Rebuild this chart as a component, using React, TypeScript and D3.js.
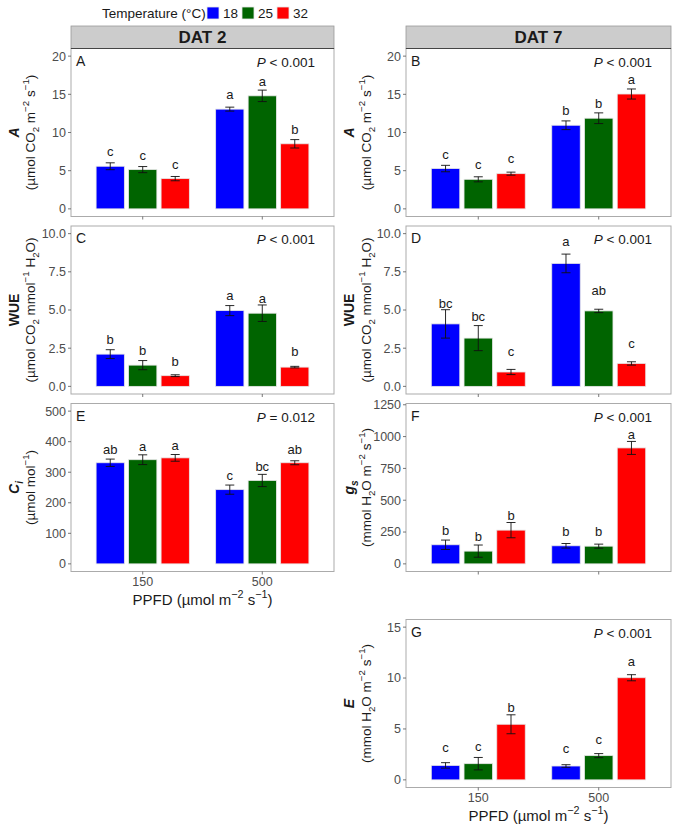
import React from "react";
import * as d3 from "d3";

// categories
const ppfd = ["150", "500"];
const temps = ["18", "25", "32"];
const tempColors = ["#0000FF", "#006400", "#FF0000"];

// order of every series: 150/18, 150/25, 150/32, 500/18, 500/25, 500/32
const aDat2 = [5.58, 5.14, 3.96, 13.06, 14.8, 8.52];
const aDat2Se = [0.45, 0.4, 0.28, 0.26, 0.75, 0.55];
const aDat2Let = ["c", "c", "c", "a", "a", "b"];
const aDat2LetY = [7.47, 7.03, 5.8, 14.95, 16.7, 10.4];

const aDat7 = [5.28, 3.87, 4.61, 10.95, 11.87, 15.04];
const aDat7Se = [0.42, 0.33, 0.2, 0.57, 0.7, 0.66];
const aDat7Let = ["c", "c", "c", "b", "b", "a"];
const aDat7LetY = [7.12, 5.8, 6.6, 12.9, 13.85, 16.9];

const wueDat2 = [2.11, 1.39, 0.7, 4.96, 4.79, 1.26];
const wueDat2Se = [0.29, 0.3, 0.06, 0.33, 0.54, 0.05];
const wueDat2Let = ["b", "b", "b", "a", "a", "b"];
const wueDat2LetY = [3.05, 2.33, 1.63, 5.92, 5.77, 2.28];

const wueDat7 = [4.09, 3.16, 0.94, 8.05, 4.94, 1.5];
const wueDat7Se = [0.93, 0.82, 0.17, 0.61, 0.11, 0.11];
const wueDat7Let = ["bc", "bc", "c", "a", "ab", "c"];
const wueDat7LetY = [5.44, 4.57, 2.28, 9.46, 6.31, 2.83];

const ciDat2 = [331, 341, 347, 243, 273, 331];
const ciDat2Se = [12, 16, 11, 15, 20, 6.5];
const ciDat2Let = ["ab", "a", "a", "c", "bc", "ab"];
const ciDat2LetY = [376, 383, 389, 289, 318, 376];

const gsDat7 = [150, 100, 265, 142, 139, 911];
const gsDat7Se = [37, 48, 60, 18, 16, 51];
const gsDat7Let = ["b", "b", "b", "b", "b", "a"];
const gsDat7LetY = [265, 218, 381, 257, 257, 1019];

const eDat7 = [1.42, 1.59, 5.46, 1.36, 2.38, 10.03];
const eDat7Se = [0.27, 0.61, 0.93, 0.13, 0.2, 0.3];
const eDat7Let = ["c", "c", "b", "c", "c", "a"];
const eDat7LetY = [3.14, 3.24, 7.11, 3.08, 4.0, 11.6];

const ticks20 = [0, 5, 10, 15, 20];
const ticks10 = [0, 2.5, 5, 7.5, 10];
const ticks500 = [0, 100, 200, 300, 400, 500];
const ticks1250 = [0, 250, 500, 750, 1000, 1250];
const ticks15 = [0, 5, 10, 15];

type Seg = { t: string; k?: "sub" | "sup"; it?: boolean; b?: boolean };

const unitsA: Seg[] = [{ t: "(µmol CO" }, { t: "2", k: "sub" }, { t: " m" }, { t: "−2", k: "sup" }, { t: " s" }, { t: "−1", k: "sup" }, { t: ")" }];
const unitsWue: Seg[] = [{ t: "(µmol CO" }, { t: "2", k: "sub" }, { t: " mmol" }, { t: "−1", k: "sup" }, { t: " H" }, { t: "2", k: "sub" }, { t: "O)" }];
const unitsCi: Seg[] = [{ t: "(µmol mol" }, { t: "−1", k: "sup" }, { t: ")" }];
const unitsH2o: Seg[] = [{ t: "(mmol H" }, { t: "2", k: "sub" }, { t: "O m" }, { t: "−2", k: "sup" }, { t: " s" }, { t: "−1", k: "sup" }, { t: ")" }];
const unitsPpfd: Seg[] = [{ t: "PPFD (µmol m" }, { t: "−2", k: "sup" }, { t: " s" }, { t: "−1", k: "sup" }, { t: ")" }];

const font = "'Liberation Sans', Arial, Helvetica, sans-serif";
const colX = [71, 406];
const colW = [263, 265];
const rowTop = [48.5, 226, 403.5, 619.5];
const panelH = 168;

const panels = [
  { tag: "A", col: 0, row: 0, v: aDat2, se: aDat2Se, let: aDat2Let, letY: aDat2LetY, max: 20, ticks: ticks20, fmt: "d", p: "< 0.001", title: [{ t: "A", it: true, b: true }] as Seg[], units: unitsA, strip: "DAT 2" },
  { tag: "B", col: 1, row: 0, v: aDat7, se: aDat7Se, let: aDat7Let, letY: aDat7LetY, max: 20, ticks: ticks20, fmt: "d", p: "< 0.001", title: [{ t: "A", it: true, b: true }] as Seg[], units: unitsA, strip: "DAT 7" },
  { tag: "C", col: 0, row: 1, v: wueDat2, se: wueDat2Se, let: wueDat2Let, letY: wueDat2LetY, max: 10, ticks: ticks10, fmt: ".1f", p: "< 0.001", title: [{ t: "WUE", b: true }] as Seg[], units: unitsWue },
  { tag: "D", col: 1, row: 1, v: wueDat7, se: wueDat7Se, let: wueDat7Let, letY: wueDat7LetY, max: 10, ticks: ticks10, fmt: ".1f", p: "< 0.001", title: [{ t: "WUE", b: true }] as Seg[], units: unitsWue },
  { tag: "E", col: 0, row: 2, v: ciDat2, se: ciDat2Se, let: ciDat2Let, letY: ciDat2LetY, max: 500, ticks: ticks500, fmt: "d", p: "= 0.012", title: [{ t: "C", it: true, b: true }, { t: "i", k: "sub", it: true, b: true }] as Seg[], units: unitsCi, xlab: true },
  { tag: "F", col: 1, row: 2, v: gsDat7, se: gsDat7Se, let: gsDat7Let, letY: gsDat7LetY, max: 1200, ticks: ticks1250, fmt: "d", p: "< 0.001", title: [{ t: "g", it: true, b: true }, { t: "s", k: "sub", it: true, b: true }] as Seg[], units: unitsH2o },
  { tag: "G", col: 1, row: 3, v: eDat7, se: eDat7Se, let: eDat7Let, letY: eDat7LetY, max: 15, ticks: ticks15, fmt: "d", p: "< 0.001", title: [{ t: "E", it: true, b: true }] as Seg[], units: unitsH2o, xlab: true },
];

// rich text: base is the vertical shift of the whole line (the tspans' dy would override a dy on the parent <text>)
function Rich({ segs, size, base = 0.35 * size }: { segs: Seg[]; size: number; base?: number }) {
  let cur = -base;
  const out = segs.map((s, i) => {
    const target = s.k === "sup" ? -0.42 * size : s.k === "sub" ? 0.28 * size : 0;
    const dy = target - cur;
    cur = target;
    return (
      <tspan key={i} dy={dy} fontSize={s.k ? size * 0.72 : size} fontStyle={s.it ? "italic" : "normal"} fontWeight={s.b ? "bold" : "normal"}>
        {s.t}
      </tspan>
    );
  });
  return <>{out}</>;
}

function Panel({ cfg }: { cfg: (typeof panels)[number] }) {
  const left = colX[cfg.col];
  const w = colW[cfg.col];
  const top = rowTop[cfg.row];
  const bottom = top + panelH;
  const y = d3.scaleLinear().domain([-0.05 * cfg.max, cfg.max * 1.05]).range([bottom, top]);
  const x0 = d3.scalePoint().domain(ppfd).range([left, left + w]).padding(0.6);
  const step = x0.step();
  const x1 = d3.scaleBand().domain(temps).range([-0.39 * step, 0.39 * step]).paddingInner(0.13);
  const bw = x1.bandwidth();
  const fmt = d3.format(cfg.fmt);
  const cy = (top + bottom) / 2;
  const titleX = cfg.col === 0 ? 14 : 349;
  const unitX = cfg.col === 0 ? 30 : 366;

  const bars = cfg.v.map((v, i) => {
    const g = ppfd[Math.floor(i / 3)];
    const t = temps[i % 3];
    const bx = (x0(g) as number) + (x1(t) as number);
    const cx = bx + bw / 2;
    const se = cfg.se[i];
    return (
      <g key={i}>
        <rect x={bx} y={y(v)} width={bw} height={y(0) - y(v)} fill={tempColors[i % 3]} stroke="#e6e6e6" strokeWidth={0.8} />
        <line x1={cx} x2={cx} y1={y(v - se)} y2={y(v + se)} stroke="#111" strokeWidth={0.9} />
        <line x1={cx - 4.5} x2={cx + 4.5} y1={y(v - se)} y2={y(v - se)} stroke="#111" strokeWidth={0.9} />
        <line x1={cx - 4.5} x2={cx + 4.5} y1={y(v + se)} y2={y(v + se)} stroke="#111" strokeWidth={0.9} />
        <text x={cx} y={y(cfg.letY[i])} dy="0.35em" textAnchor="middle" fontSize={13} fill="#1a1a1a">
          {cfg.let[i]}
        </text>
      </g>
    );
  });

  return (
    <g fontFamily={font}>
      {cfg.strip && (
        <g>
          <rect x={left} y={26} width={w} height={top - 26} fill="#CCCCCC" stroke="#9a9a9a" strokeWidth={0.8} />
          <text x={left + w / 2} y={(26 + top) / 2} dy="0.36em" textAnchor="middle" fontSize={17} fontWeight="bold" fill="#1a1a1a">
            {cfg.strip}
          </text>
        </g>
      )}
      <rect x={left} y={top} width={w} height={panelH} fill="white" stroke="#ababab" strokeWidth={1} />
      {cfg.strip && <line x1={left} x2={left + w} y1={top} y2={top} stroke="#444" strokeWidth={1} />}
      {cfg.ticks.map((t) => (
        <g key={t}>
          <line x1={left - 3} x2={left} y1={y(t)} y2={y(t)} stroke="#555" strokeWidth={0.8} />
          <text x={left - 5} y={y(t)} dy="0.35em" textAnchor="end" fontSize={12.5} fill="#4D4D4D">
            {fmt(t)}
          </text>
        </g>
      ))}
      {ppfd.map((g) => (
        <g key={g}>
          <line x1={x0(g)} x2={x0(g)} y1={bottom} y2={bottom + 3} stroke="#555" strokeWidth={0.8} />
          {cfg.xlab && (
            <text x={x0(g)} y={bottom + 10} dy="0.35em" textAnchor="middle" fontSize={12.5} fill="#4D4D4D">
              {g}
            </text>
          )}
        </g>
      ))}
      {cfg.xlab && (
        <text x={left + w / 2} y={bottom + 28} textAnchor="middle" fill="#1a1a1a">
          <Rich segs={unitsPpfd} size={15} />
        </text>
      )}
      {bars}
      <text x={left + 5} y={top + 17} fontSize={14} fill="#1a1a1a">
        {cfg.tag}
      </text>
      <text x={left + w - 19} y={top + 18} textAnchor="end" fontSize={13.5} fill="#1a1a1a">
        <tspan fontStyle="italic">P</tspan>
        <tspan>{" " + cfg.p}</tspan>
      </text>
      <text transform={`translate(${titleX},${cy}) rotate(-90)`} textAnchor="middle" fill="#1a1a1a">
        <Rich segs={cfg.title} size={14} />
      </text>
      <text transform={`translate(${unitX},${cy}) rotate(-90)`} textAnchor="middle" fill="#1a1a1a">
        <Rich segs={cfg.units} size={13.5} />
      </text>
    </g>
  );
}

export default function App() {
  const legendX = [207, 242, 277];
  return (
    <svg width={673} height={824} style={{ position: "absolute", left: 0, top: 0, background: "white" }}>
      <g fontFamily={font}>
        <text x={102} y={13} dy="0.35em" fontSize={13.5} fill="#1a1a1a">
          Temperature (°C)
        </text>
        {temps.map((t, i) => (
          <g key={t}>
            <rect x={legendX[i]} y={7} width={12} height={12} fill={tempColors[i]} stroke="#e6e6e6" strokeWidth={0.8} />
            <text x={legendX[i] + 16} y={13} dy="0.35em" fontSize={13.5} fill="#1a1a1a">
              {t}
            </text>
          </g>
        ))}
      </g>
      {panels.map((p) => (
        <Panel key={p.tag} cfg={p} />
      ))}
    </svg>
  );
}
